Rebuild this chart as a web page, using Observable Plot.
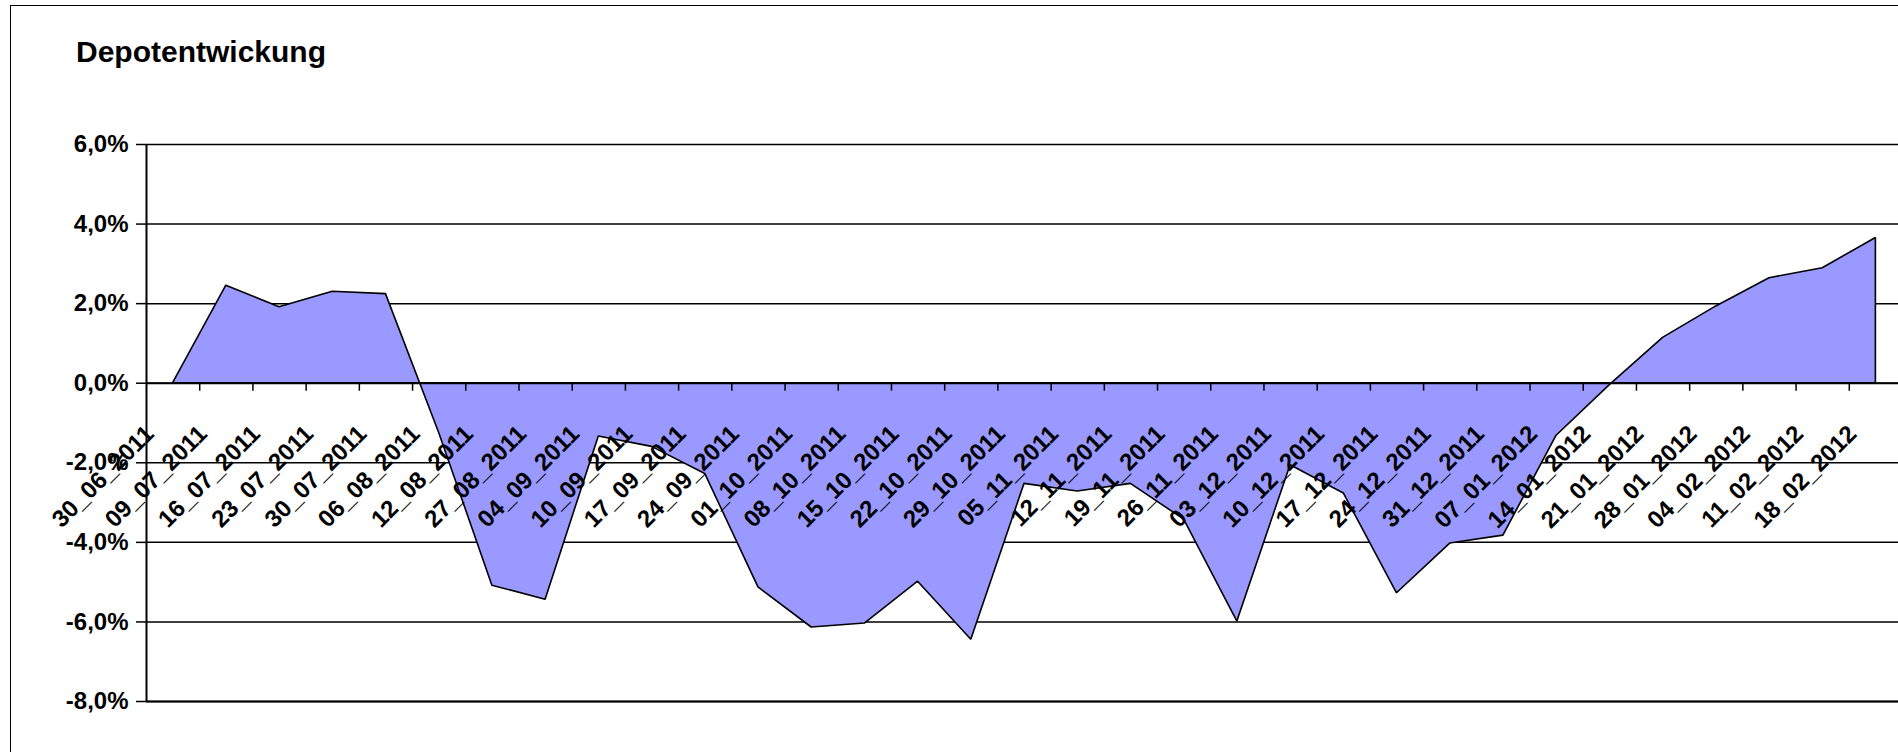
<!DOCTYPE html>
<html>
<head>
<meta charset="utf-8">
<script src="https://cdn.jsdelivr.net/npm/d3@7"></script>
<script src="https://cdn.jsdelivr.net/npm/@observablehq/plot@0.6"></script>
<style>
  html, body { margin: 0; padding: 0; background: #fff; overflow: hidden; }
  #wrap { position: relative; width: 1898px; height: 752px; overflow: hidden; background: #fff; }
  #frame { position: absolute; left: 10px; top: 5px; width: 2000px; height: 900px; border: 1.6px solid #000; box-sizing: border-box; }
  #title { position: absolute; left: 76px; top: 37px; font: bold 30px/30px "Liberation Sans", Arial, sans-serif; color: #000; white-space: nowrap; }
  #chart { position: absolute; left: 0; top: 0; }
</style>
</head>
<body>
<div id="wrap">
  <div id="frame"></div>
  <div id="title">Depotentwickung</div>
  <div id="chart"></div>
</div>
<script>
const labels = ["30_06_2011","09_07_2011","16_07_2011","23_07_2011","30_07_2011","06_08_2011","12_08_2011","27_08_2011","04_09_2011","10_09_2011","17_09_2011","24_09_2011","01_10_2011","08_10_2011","15_10_2011","22_10_2011","29_10_2011","05_11_2011","12_11_2011","19_11_2011","26_11_2011","03_12_2011","10_12_2011","17_12_2011","24_12_2011","31_12_2011","07_01_2012","14_01_2012","21_01_2012","28_01_2012","04_02_2012","11_02_2012","18_02_2012"];
const values = [0, 2.45, 1.91, 2.30, 2.24, -1.25, -5.09, -5.44, -1.34, -1.60, -2.28, -5.13, -6.14, -6.04, -4.99, -6.45, -2.53, -2.72, -2.53, -3.43, -5.99, -2.06, -2.77, -5.28, -4.03, -3.83, -1.32, -0.05, 1.14, 1.93, 2.64, 2.89, 3.65];
const yTicks = [-8, -6, -4, -2, 0, 2, 4, 6];

const rows = labels.map((label, i) => ({i, label, v: values[i]}));
const boundaries = d3.range(1, labels.length).map(k => k - 0.5);
const fmt = d => d.toFixed(1).replace(".", ",") + "%";
const font = "'Liberation Sans', Arial, sans-serif";

const chart = Plot.plot({
  width: 1898,
  height: 752,
  marginLeft: 146,
  marginRight: -4,
  marginTop: 144,
  marginBottom: 51,
  style: {background: "transparent", overflow: "visible", fontFamily: font, color: "#000"},
  x: {type: "linear", domain: [-0.5, labels.length - 0.5], axis: null},
  y: {domain: [-8, 6]},
  marks: [
    Plot.ruleY(yTicks, {stroke: "#000", strokeWidth: 1.5}),
    Plot.areaY(rows, {x: "i", y1: 0, y2: "v", fill: "#9999FF", stroke: "#000", strokeWidth: 1.6, strokeLinejoin: "miter"}),
    Plot.ruleY([0], {stroke: "#000", strokeWidth: 2}),
    Plot.ruleY([-8], {stroke: "#000", strokeWidth: 2}),
    Plot.ruleX([-0.5], {stroke: "#000", strokeWidth: 2}),
    Plot.ruleX(boundaries, {x: d => d, y1: 0, y2: 0, insetBottom: -8, stroke: "#000", strokeWidth: 1.5}),
    Plot.axisY({ticks: yTicks, tickFormat: fmt, tickSize: 10, tickPadding: 8, fontSize: 24, fontWeight: "bold", strokeWidth: 1.5, label: null}),
    Plot.text(rows, {x: "i", y: () => 0, text: "label", rotate: -45, textAnchor: "end", lineAnchor: "bottom", dx: -18, dy: 52, fontSize: 24, fontWeight: "bold", fill: "#000"})
  ]
});
document.getElementById("chart").appendChild(chart);
</script>
</body>
</html>
